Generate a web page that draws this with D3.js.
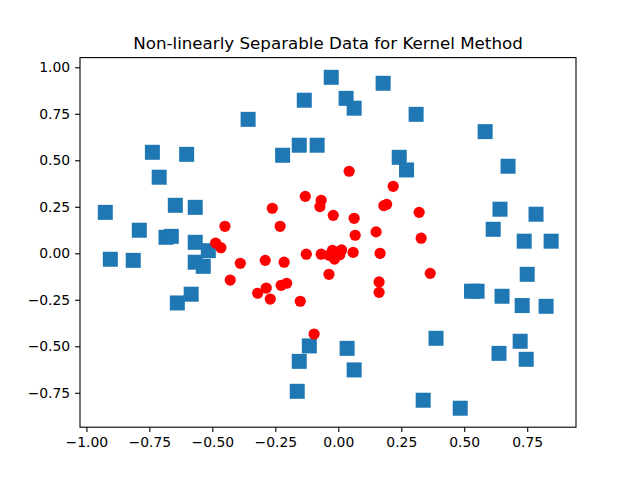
<!DOCTYPE html>
<html><head><meta charset="utf-8">
<script src="https://cdn.jsdelivr.net/npm/d3@7"></script>
<style>body{margin:0;background:#fff}svg{display:block}</style>
</head><body>
<script>
const title = "Non-linearly Separable Data for Kernel Method";
const xTicks = [-1.00,-0.75,-0.50,-0.25,0.00,0.25,0.50,0.75];
const yTicks = [-0.75,-0.50,-0.25,0.00,0.25,0.50,0.75,1.00];
// class 1 (outer, blue squares)
const outerX = [-0.925,-0.905,-0.790,-0.814,-0.738,-0.711,-0.602,-0.684,-0.663,-0.647,-0.639,-0.568,-0.568,-0.568,-0.584,-0.536,-0.516,-0.358,-0.221,-0.155,-0.135,-0.084,-0.028,0.031,0.063,0.178,0.242,0.271,0.309,0.583,0.674,0.642,0.615,0.785,0.738,0.845,0.750,0.529,0.551,0.650,0.730,0.825,0.722,0.746,0.638,0.388,0.337,0.484,0.035,0.063,-0.115,-0.155,-0.163];
const outerY = [0.220,-0.032,0.124,-0.038,0.543,0.409,0.532,0.086,0.091,0.258,-0.267,0.247,0.059,-0.048,-0.220,-0.070,0.014,0.720,0.527,0.581,0.823,0.581,0.946,0.833,0.780,0.914,0.516,0.448,0.747,0.654,0.468,0.237,0.129,0.210,0.065,0.065,-0.113,-0.204,-0.204,-0.231,-0.281,-0.285,-0.473,-0.570,-0.538,-0.457,-0.790,-0.833,-0.511,-0.627,-0.498,-0.581,-0.742];
// class 0 (inner, red circles)
const innerX = [0.043,0.218,-0.131,-0.068,-0.073,-0.262,0.181,0.192,-0.020,0.063,-0.231,-0.450,0.150,0.067,0.321,0.329,-0.487,-0.466,-0.389,-0.290,-0.215,-0.127,-0.068,-0.023,0.013,-0.015,0.006,-0.036,0.059,0.166,-0.037,0.365,-0.429,-0.286,-0.320,-0.270,-0.227,-0.205,-0.151,0.162,0.162,-0.096];
const innerY = [0.441,0.360,0.306,0.285,0.251,0.242,0.256,0.263,0.204,0.188,0.145,0.145,0.115,0.097,0.220,0.081,0.055,0.030,-0.054,-0.038,-0.048,-0.005,-0.005,0.016,0.018,-0.031,-0.008,-0.011,0.005,0.000,-0.113,-0.108,-0.144,-0.187,-0.215,-0.246,-0.172,-0.161,-0.258,-0.154,-0.210,-0.434];

const W = 640, H = 480;
const m = {left:80, right:576, top:57.6, bottom:427.2};
const svg = d3.select("body").append("svg").attr("width",W).attr("height",H)
  .style("font-family","'DejaVu Sans', sans-serif");

const x = d3.scaleLinear().domain([-1.0254,0.9437]).range([m.left,m.right]);
const y = d3.scaleLinear().domain([-0.935,1.052]).range([m.bottom,m.top]);

const fmt = d3.format(".2f");
const minus = s => s.replace("-","\u2212");

// points
const outer = outerX.map((v,i)=>({x:v,y:outerY[i]}));
const inner = innerX.map((v,i)=>({x:v,y:innerY[i]}));
const side = 15;
svg.append("g").selectAll("rect").data(outer).join("rect")
  .attr("x",d=>x(d.x)-side/2).attr("y",d=>y(d.y)-side/2)
  .attr("width",side).attr("height",side).attr("fill","#1f77b4");
svg.append("g").selectAll("circle").data(inner).join("circle")
  .attr("cx",d=>x(d.x)).attr("cy",d=>y(d.y)).attr("r",5.6).attr("fill","#ff0000");

// axes
const xAxis = d3.axisBottom(x).tickValues(xTicks).tickFormat(d=>minus(fmt(d))).tickSize(4.9).tickPadding(4.9);
const yAxis = d3.axisLeft(y).tickValues(yTicks).tickFormat(d=>minus(fmt(d))).tickSize(4.9).tickPadding(4.9);
const gx = svg.append("g").attr("transform",`translate(0,${m.bottom})`).call(xAxis);
const gy = svg.append("g").attr("transform",`translate(${m.left},0)`).call(yAxis);
[gx,gy].forEach(g=>{
  g.select(".domain").remove();
  g.selectAll(".tick line").attr("stroke","#000").attr("stroke-width",1.1);
  g.selectAll(".tick text").attr("fill","#000").style("font-size","13.9px").style("font-family","'DejaVu Sans', sans-serif");
});
svg.append("rect").attr("x",m.left).attr("y",m.top).attr("width",m.right-m.left).attr("height",m.bottom-m.top)
  .attr("fill","none").attr("stroke","#000").attr("stroke-width",1.1);

svg.append("text").attr("x",(m.left+m.right)/2).attr("y",m.top-8.3)
  .attr("text-anchor","middle").style("font-size","16.7px").attr("fill","#000").text(title);
</script>
</body></html>
